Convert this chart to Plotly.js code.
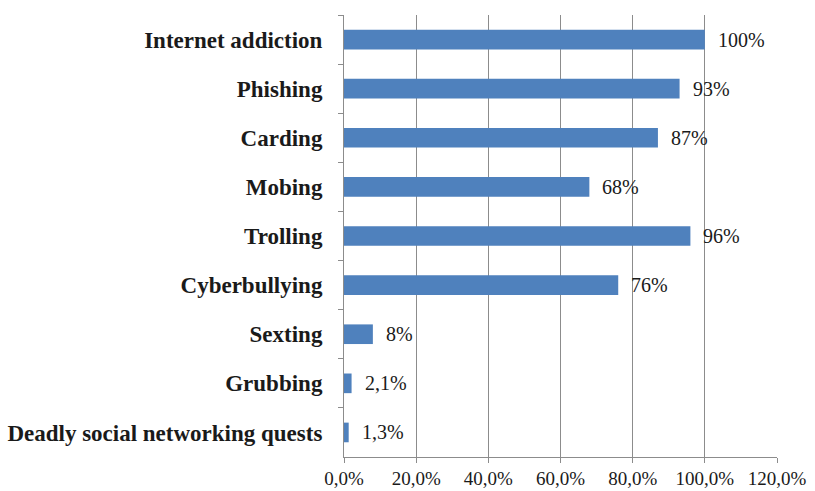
<!DOCTYPE html>
<html>
<head>
<meta charset="utf-8">
<script src="https://cdn.plot.ly/plotly-3.0.1.min.js"></script>
<style>html,body{margin:0;padding:0;background:#fff;}#chart{width:815px;height:491px;}</style>
</head>
<body>
<div id="chart"></div>
<script>
const categories = ["Internet addiction","Phishing","Carding","Mobing","Trolling","Cyberbullying","Sexting","Grubbing","Deadly social networking quests"];
const values = [100, 93, 87, 68, 96, 76, 8, 2.1, 1.3];
const valueLabels = ["100%","93%","87%","68%","96%","76%","8%","2,1%","1,3%"];
const xTicks = [0, 20, 40, 60, 80, 100, 120];
const xTickLabels = ["0,0%","20,0%","40,0%","60,0%","80,0%","100,0%","120,0%"];

const trace = {
  type: 'bar',
  orientation: 'h',
  x: values,
  y: categories,
  width: 0.4,
  marker: {color: '#4F81BD'},
  hoverinfo: 'none'
};

const annotations = categories.map((c, i) => ({
  x: values[i], y: c, xref: 'x', yref: 'y',
  text: valueLabels[i], showarrow: false,
  xanchor: 'left', xshift: 11,
  font: {family: 'Liberation Serif, serif', size: 20, color: '#1a1a1a'}
}));

const layout = {
  width: 815, height: 491,
  margin: {l: 344, r: 38, t: 15, b: 34},
  paper_bgcolor: '#fff', plot_bgcolor: '#fff',
  showlegend: false,
  xaxis: {
    range: [0, 120],
    tickmode: 'array',
    tickvals: xTicks,
    ticktext: xTickLabels,
    showgrid: true, gridcolor: '#8c8c8c', gridwidth: 1,
    showline: true, linecolor: '#8c8c8c', linewidth: 1,
    ticks: 'outside', ticklen: 5, tickcolor: '#8c8c8c',
    ticklabelstandoff: -1,
    zeroline: false,
    tickfont: {family: 'Liberation Serif, serif', size: 19, color: '#1a1a1a'},
    fixedrange: true
  },
  yaxis: {
    type: 'category',
    autorange: 'reversed',
    showgrid: false,
    showline: true, linecolor: '#8c8c8c', linewidth: 1,
    ticks: 'outside', ticklen: 5, tickcolor: '#8c8c8c',
    tickson: 'boundaries',
    ticklabelstandoff: 16,
    tickfont: {family: 'Liberation Serif, serif', size: 23, color: '#1a1a1a', weight: 'bold'},
    fixedrange: true
  },
  annotations: annotations
};

Plotly.newPlot('chart', [trace], layout, {displayModeBar: false, staticPlot: true});
</script>
</body>
</html>
